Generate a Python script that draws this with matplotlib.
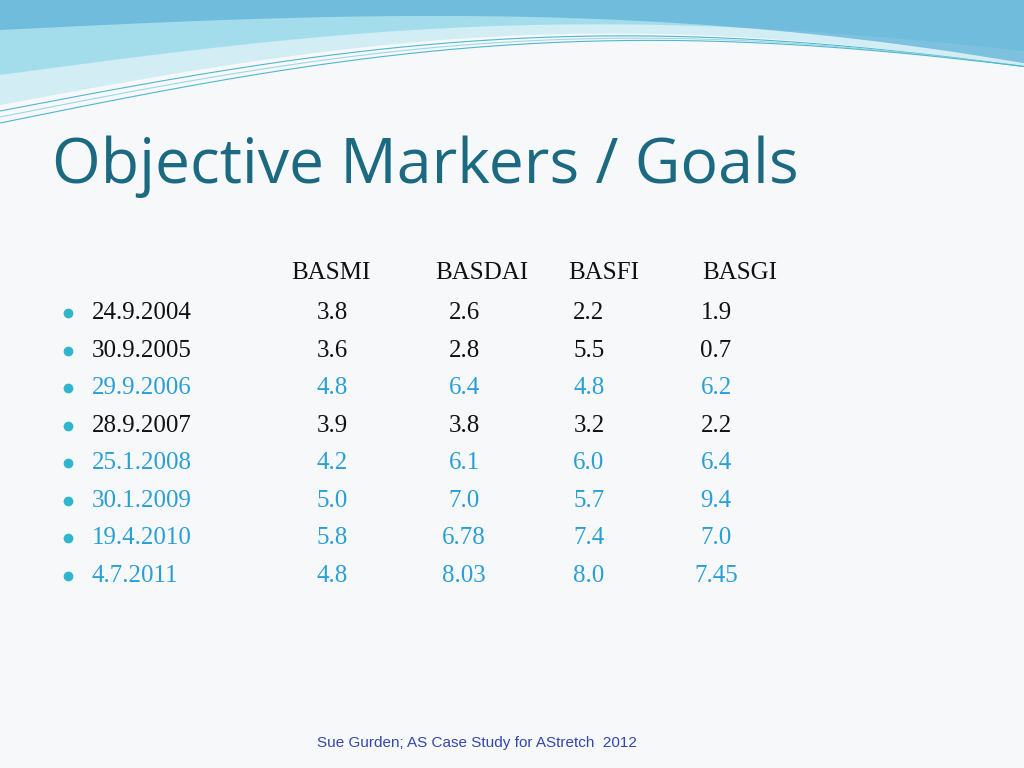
"""Slide recreation: Objective Markers / Goals table."""

import numpy as np
import matplotlib.pyplot as plt
from matplotlib.patches import Polygon

# Data
dates = ['24.9.2004', '30.9.2005', '29.9.2006', '28.9.2007',
         '25.1.2008', '30.1.2009', '19.4.2010', '4.7.2011']
measures = ['BASMI', 'BASDAI', 'BASFI', 'BASGI']
basmi = ['3.8', '3.6', '4.8', '3.9', '4.2', '5.0', '5.8', '4.8']
basdai = ['2.6', '2.8', '6.4', '3.8', '6.1', '7.0', '6.78', '8.03']
basfi = ['2.2', '5.5', '4.8', '3.2', '6.0', '5.7', '7.4', '8.0']
basgi = ['1.9', '0.7', '6.2', '2.2', '6.4', '9.4', '7.0', '7.45']
highlighted = [False, False, True, False, True, True, True, True]

W, H = 1024, 768
fig = plt.figure(figsize=(10.24, 7.68), dpi=100)
fig.patch.set_facecolor('#F6F8FA')
ax = fig.add_axes([0, 0, 1, 1])
ax.set_xlim(0, W)
ax.set_ylim(H, 0)
ax.axis('off')

# Decorative wave banner at the top
x = np.linspace(0, W, 300)
t = x / W
top = np.zeros_like(x)
lower1 = 105 - 60 * np.sin(t * np.pi * 0.9) - 20 * t
lower2 = 75 - 45 * np.sin(t * np.pi * 0.9) - 10 * t
lower3 = 30 - 20 * np.sin(t * np.pi * 0.8) + 45 * t ** 3
for low, c, a in [(lower1, '#D2EEF4', 1.0), (lower2, '#9BDBEA', 0.85),
                  (lower3, '#5AAFD6', 0.7)]:
    ax.add_patch(Polygon(np.column_stack([np.r_[x, x[::-1]], np.r_[low, top[::-1]]]),
                         closed=True, facecolor=c, edgecolor='none', alpha=a))
for off, c in [(6, '#4FB8D0'), (12, '#9ED8E6'), (18, '#4FB8D0')]:
    ax.plot(x, lower1 + off * (1 - t), color=c, lw=0.8)

# Title
ax.text(52, 167, 'Objective Markers / Goals', fontsize=45, color='#1B6A82',
        family='Open Sans', va='center', ha='left')

# Table
col_x = [332, 464, 589, 716]
header_x = [331, 482, 604, 740]
header_y = 273
row_y = [313, 351, 388, 426, 463, 501, 538, 576]
serif = 'Liberation Serif'
for m, hx in zip(measures, header_x):
    ax.text(hx, header_y, m, fontsize=18, family=serif, ha='center', va='center',
            color='#111111')

columns = [basmi, basdai, basfi, basgi]
for i, (d, y) in enumerate(zip(dates, row_y)):
    color = '#2A9FD6' if highlighted[i] else '#111111'
    ax.plot(68, y, 'o', color='#2FB6CC', markersize=6)
    ax.text(92, y, d, fontsize=18, family=serif, ha='left', va='center', color=color)
    for col, cx in zip(columns, col_x):
        ax.text(cx, y, col[i], fontsize=18, family=serif, ha='center', va='center',
                color=color)

# Footer
ax.text(477, 743, 'Sue Gurden; AS Case Study for AStretch  2012', fontsize=11,
        family='Liberation Sans', ha='center', va='center', color='#3346B0')

fig.savefig('out.png', dpi=100, facecolor=fig.get_facecolor())
